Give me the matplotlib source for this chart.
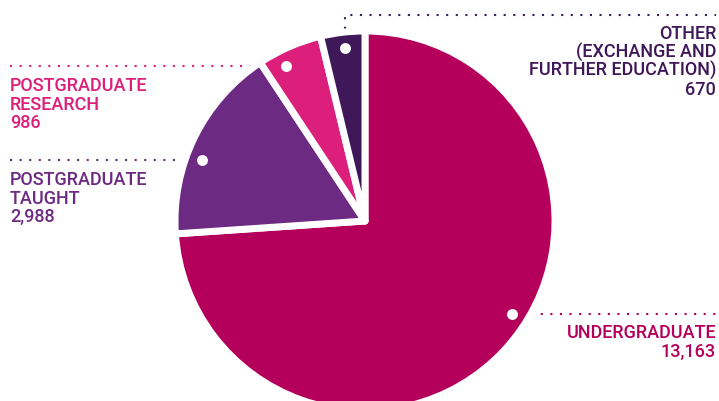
"""Student numbers by level of study: pie with dotted leader labels."""

import numpy as np
import matplotlib

matplotlib.use("Agg")
import matplotlib.pyplot as plt

W, H = 719, 401

# data
categories = ["UNDERGRADUATE", "POSTGRADUATE TAUGHT", "POSTGRADUATE RESEARCH", "OTHER"]
students = [13163, 2988, 986, 670]
label_lines = [
    ["UNDERGRADUATE"],
    ["POSTGRADUATE", "TAUGHT"],
    ["POSTGRADUATE", "RESEARCH"],
    ["OTHER", "(EXCHANGE AND", "FURTHER EDUCATION)"],
]
colors = ["#b4005a", "#6d2a82", "#db1f7b", "#3e1858"]

# layout, in pixels from the top-left corner
CX, CY, R = 365, 221, 190
DOT_R = 174
LINE_STEP = 18.6
# (side, leader y, text x, first baseline y, align)
layout = [
    ("right", 314, 716, 338, "right"),
    ("left", 160, 10, 185, "left"),
    ("left", 66, 10, 91, "left"),
    ("top", 15, 716, 39, "right"),
]
OTHER_DOT_X = 345


def Y(y):
    return H - y


fig = plt.figure(figsize=(W / 100, H / 100), dpi=100)
ax = fig.add_axes([0, 0, 1, 1])

ax.pie(
    students,
    colors=colors,
    startangle=90,
    counterclock=False,
    radius=R,
    center=(CX, Y(CY)),
    wedgeprops=dict(edgecolor="white", linewidth=5, joinstyle="round"),
)

dot_style = dict(linewidth=1.5, linestyle=(0, (1, 3.6)), dash_capstyle="butt", zorder=0)

for cat, n, lines, col, (side, ly, tx, ty, ha) in zip(
    categories, students, label_lines, colors, layout
):
    if side == "top":
        dx = OTHER_DOT_X - CX
        px, py = OTHER_DOT_X, CY - np.sqrt(DOT_R**2 - dx**2)
        ax.plot([px, px, 716], [Y(py), Y(ly), Y(ly)], color=col, **dot_style)
    else:
        dy = CY - ly
        off = np.sqrt(DOT_R**2 - dy**2)
        px, py = (CX + off, ly) if side == "right" else (CX - off, ly)
        if side == "right":
            ax.plot([px, 716], [Y(ly), Y(ly)], color=col, **dot_style)
        else:
            ax.plot([10, px], [Y(ly), Y(ly)], color=col, **dot_style)
    ax.scatter([px], [Y(py)], s=62, color="white", zorder=5, linewidths=0)

    for i, t in enumerate(lines + [f"{n:,}"]):
        ax.text(
            tx, Y(ty + i * LINE_STEP), t,
            ha=ha, va="baseline", color=col,
            fontsize=13, fontfamily="Roboto", fontweight="medium",
        )

ax.set_xlim(0, W)
ax.set_ylim(0, H)
ax.set_aspect("equal")
ax.axis("off")

fig.savefig("out.png", dpi=100, facecolor="white")
